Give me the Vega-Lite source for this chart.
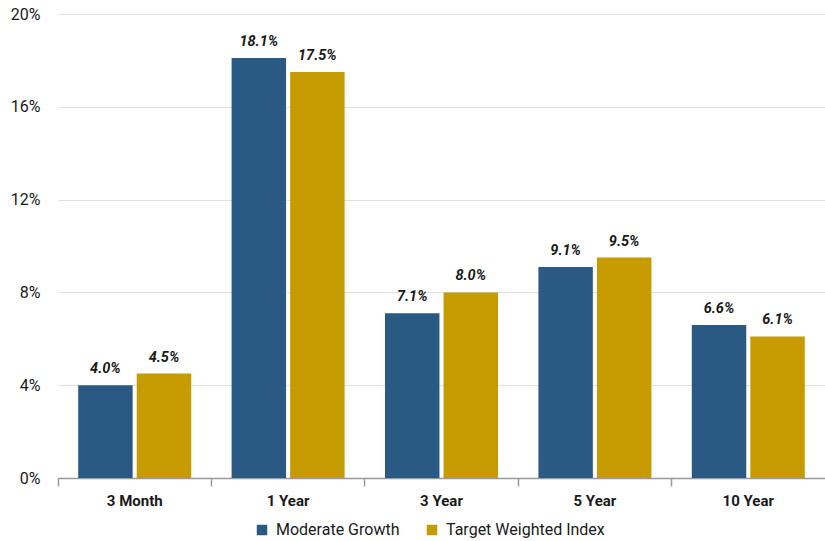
{
  "$schema": "https://vega.github.io/schema/vega-lite/v6.json",
  "autosize": {"type": "none"},
  "width": 767,
  "height": 464,
  "padding": {"left": 58, "top": 14, "right": 0, "bottom": 63},
  "background": "white",
  "config": {
    "font": "Roboto, sans-serif",
    "view": {"stroke": null}
  },
  "data": {
    "values": [
      {"period": "3 Month", "series": "Moderate Growth", "value": 0.040},
      {"period": "3 Month", "series": "Target Weighted Index", "value": 0.045},
      {"period": "1 Year", "series": "Moderate Growth", "value": 0.181},
      {"period": "1 Year", "series": "Target Weighted Index", "value": 0.175},
      {"period": "3 Year", "series": "Moderate Growth", "value": 0.071},
      {"period": "3 Year", "series": "Target Weighted Index", "value": 0.080},
      {"period": "5 Year", "series": "Moderate Growth", "value": 0.091},
      {"period": "5 Year", "series": "Target Weighted Index", "value": 0.095},
      {"period": "10 Year", "series": "Moderate Growth", "value": 0.066},
      {"period": "10 Year", "series": "Target Weighted Index", "value": 0.061}
    ]
  },
  "encoding": {
    "x": {
      "field": "period", "type": "nominal",
      "sort": ["3 Month", "1 Year", "3 Year", "5 Year", "10 Year"],
      "scale": {"paddingInner": 0, "paddingOuter": 0},
      "axis": {
        "title": null, "labelAngle": 0, "labelFontSize": 15, "labelFontWeight": "bold",
        "labelColor": "#1a1a1a", "labelPadding": 7,
        "domainColor": "#999999", "domainWidth": 1.5,
        "tickColor": "#999999", "tickWidth": 1.5, "tickSize": 8, "bandPosition": 0,
        "grid": false
      }
    },
    "xOffset": {
      "field": "series", "type": "nominal",
      "scale": {"paddingInner": 0.07, "paddingOuter": 0.345}
    },
    "y": {
      "field": "value", "type": "quantitative",
      "scale": {"domain": [0, 0.2], "nice": false},
      "axis": {
        "title": null, "format": ".0%", "values": [0, 0.04, 0.08, 0.12, 0.16, 0.2],
        "labelFontSize": 16, "labelColor": "#1a1a1a", "labelPadding": 18,
        "domain": false, "ticks": false,
        "gridColor": "#e0e0e0", "gridWidth": 1
      }
    }
  },
  "layer": [
    {
      "mark": {"type": "bar"},
      "encoding": {
        "color": {
          "field": "series", "type": "nominal",
          "scale": {"domain": ["Moderate Growth", "Target Weighted Index"], "range": ["#2A5A83", "#C69B00"]},
          "legend": {
            "title": null, "orient": "none", "direction": "horizontal",
            "legendX": 196, "legendY": 508,
            "symbolType": "square", "symbolSize": 110, "symbolStrokeWidth": 0,
            "labelFontSize": 16, "labelColor": "#1a1a1a", "columnPadding": 24, "labelOffset": 6
          }
        }
      }
    },
    {
      "mark": {"type": "text", "baseline": "bottom", "dy": -9, "fontSize": 14.5, "fontWeight": "bold", "fontStyle": "italic", "color": "#1a1a1a"},
      "encoding": {
        "text": {"field": "value", "type": "quantitative", "format": ".1%"}
      }
    }
  ]
}
